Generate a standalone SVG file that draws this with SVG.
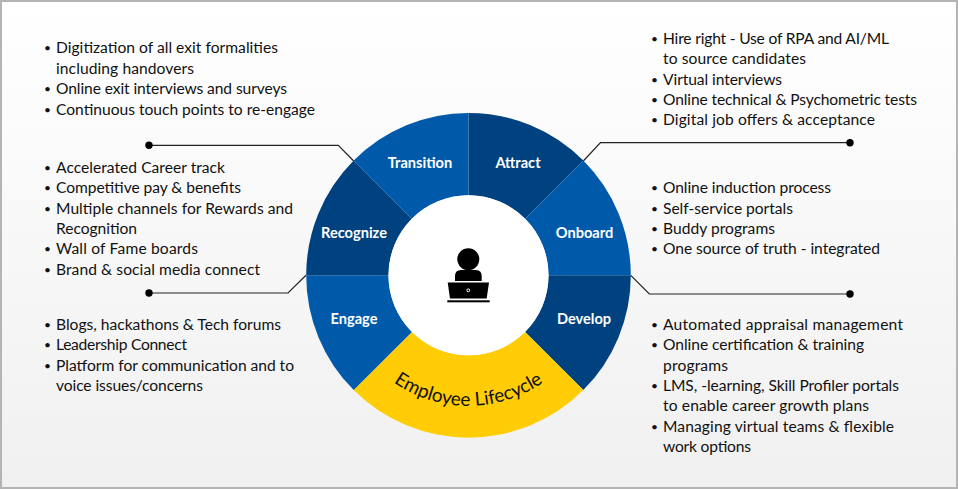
<svg xmlns="http://www.w3.org/2000/svg" width="958" height="489" viewBox="0 0 958 489">
<style>
text{font-family:"Lato","Noto Sans",sans-serif}
.t{font-size:15.6px;fill:#111}
.b{font-size:12px;fill:#111}
.l{font-size:14.6px;font-weight:700;fill:#fff;text-anchor:middle}
.d{fill:#00417f}.m{fill:#005aa9}
.c{fill:none;stroke:#222;stroke-width:1.2}
</style>
<defs>
<linearGradient id="bg" x1="0" y1="0" x2="0" y2="1"><stop offset="0" stop-color="#fff"/><stop offset="1" stop-color="#f0f0f0"/></linearGradient>
<path id="arc" d="M376.2 367.6A130.5 130.5 0 0 0 560.8 367.6"/>
</defs>
<rect x="1" y="1" width="956" height="487" fill="url(#bg)" stroke="#b4b4b4" stroke-width="2"/>
<g id="connectors">
<path class="c" d="M149 145.3H338.3L353.7 161"/><circle cx="149" cy="145.3" r="3.7"/>
<path class="c" d="M850 142.7H600.5L583.3 161"/><circle cx="850" cy="142.7" r="3.7"/>
<path class="c" d="M850 294H649.3L630.8 275.3"/><circle cx="850" cy="294" r="3.7"/>
<path class="c" d="M149 293H288L306 275.3"/><circle cx="149" cy="293" r="3.7"/>
</g>
<g id="attract"><path class="d" d="M468.5 113A162.3 162.3 0 0 1 583.3 160.5L525.1 218.7A80 80 0 0 0 468.5 195.3Z"/><text class="l" x="518" y="168">Attract</text></g>
<g id="onboard"><path class="m" d="M583.3 160.5A162.3 162.3 0 0 1 630.8 275.3H548.5A80 80 0 0 0 525.1 218.7Z"/><text class="l" x="584.5" y="238">Onboard</text></g>
<g id="develop"><path class="d" d="M630.8 275.3A162.3 162.3 0 0 1 583.3 390.1L525.1 331.9A80 80 0 0 0 548.5 275.3Z"/><text class="l" x="584" y="324">Develop</text></g>
<g id="lifecycle"><path fill="#ffcc05" d="M583.3 390.1A162.3 162.3 0 0 1 353.7 390.1L411.9 331.9A80 80 0 0 0 525.1 331.9Z"/><text font-size="19" fill="#111" text-anchor="middle"><textPath href="#arc" startOffset="50%">Employee Lifecycle</textPath></text></g>
<g id="engage"><path class="m" d="M353.7 390.1A162.3 162.3 0 0 1 306.2 275.3H388.5A80 80 0 0 0 411.9 331.9Z"/><text class="l" x="354" y="324">Engage</text></g>
<g id="recognize"><path class="d" d="M306.2 275.3A162.3 162.3 0 0 1 353.7 160.5L411.9 218.7A80 80 0 0 0 388.5 275.3Z"/><text class="l" x="354" y="238">Recognize</text></g>
<g id="transition"><path class="m" d="M353.7 160.5A162.3 162.3 0 0 1 468.5 113V195.3A80 80 0 0 0 411.9 218.7Z"/><text class="l" x="420" y="168">Transition</text></g>
<g id="employee-icon">
<circle cx="468.5" cy="275.3" r="80" fill="#fff"/>
<circle cx="468.3" cy="259.3" r="11"/>
<path d="M455 281V276Q455 270 461 270H475.7Q481.7 270 481.7 276V281Z"/>
<path d="M447.7 282.5H489L486.7 298.5H450Z"/>
<rect x="447.3" y="300.3" width="42.4" height="2"/>
<circle cx="468.3" cy="290.3" r="1.4" fill="#000" stroke="#fff" stroke-width="1"/>
</g>
<g id="transition-list">
<text class="b" x="44" y="52">•</text><text class="t" x="56" y="53" textLength="222">Digitization of all exit formalities</text>
<text class="t" x="56" y="74" textLength="138">including handovers</text>
<text class="b" x="44" y="93">•</text><text class="t" x="56" y="94" textLength="231">Online exit interviews and surveys</text>
<text class="b" x="44" y="114">•</text><text class="t" x="56" y="115" textLength="259">Continuous touch points to re-engage</text>
</g>
<g id="recognize-list">
<text class="b" x="44" y="172">•</text><text class="t" x="56" y="173" textLength="169">Accelerated Career track</text>
<text class="b" x="44" y="192">•</text><text class="t" x="56" y="193" textLength="185">Competitive pay &amp; benefits</text>
<text class="b" x="44" y="213">•</text><text class="t" x="56" y="214" textLength="237">Multiple channels for Rewards and</text>
<text class="t" x="56" y="234" textLength="81">Recognition</text>
<text class="b" x="44" y="253">•</text><text class="t" x="56" y="254" textLength="142">Wall of Fame boards</text>
<text class="b" x="44" y="274">•</text><text class="t" x="56" y="275" textLength="204">Brand &amp; social media connect</text>
</g>
<g id="engage-list">
<text class="b" x="44" y="329">•</text><text class="t" x="56" y="330" textLength="225">Blogs, hackathons &amp; Tech forums</text>
<text class="b" x="44" y="349">•</text><text class="t" x="56" y="350" textLength="131">Leadership Connect</text>
<text class="b" x="44" y="370">•</text><text class="t" x="56" y="371" textLength="238">Platform for communication and to</text>
<text class="t" x="56" y="391" textLength="147">voice issues/concerns</text>
</g>
<g id="attract-list">
<text class="b" x="651" y="43">•</text><text class="t" x="663" y="44" textLength="226">Hire right - Use of RPA and AI/ML</text>
<text class="t" x="663" y="64" textLength="143">to source candidates</text>
<text class="b" x="651" y="84">•</text><text class="t" x="663" y="85" textLength="119">Virtual interviews</text>
<text class="b" x="651" y="104">•</text><text class="t" x="663" y="105" textLength="254">Online technical &amp; Psychometric tests</text>
<text class="b" x="651" y="124">•</text><text class="t" x="663" y="125" textLength="212">Digital job offers &amp; acceptance</text>
</g>
<g id="onboard-list">
<text class="b" x="651" y="192">•</text><text class="t" x="663" y="193" textLength="168">Online induction process</text>
<text class="b" x="651" y="213">•</text><text class="t" x="663" y="214" textLength="130">Self-service portals</text>
<text class="b" x="651" y="233">•</text><text class="t" x="663" y="234" textLength="112">Buddy programs</text>
<text class="b" x="651" y="253">•</text><text class="t" x="663" y="254" textLength="217">One source of truth - integrated</text>
</g>
<g id="develop-list">
<text class="b" x="651" y="329">•</text><text class="t" x="663" y="330" textLength="240">Automated appraisal management</text>
<text class="b" x="651" y="349">•</text><text class="t" x="663" y="350" textLength="201">Online certification &amp; training</text>
<text class="t" x="663" y="371" textLength="65">programs</text>
<text class="b" x="651" y="390">•</text><text class="t" x="663" y="391" textLength="236">LMS, -learning, Skill Profiler portals</text>
<text class="t" x="663" y="411" textLength="206">to enable career growth plans</text>
<text class="b" x="651" y="431">•</text><text class="t" x="663" y="432" textLength="231">Managing virtual teams &amp; flexible</text>
<text class="t" x="663" y="452" textLength="88">work options</text>
</g>
</svg>
